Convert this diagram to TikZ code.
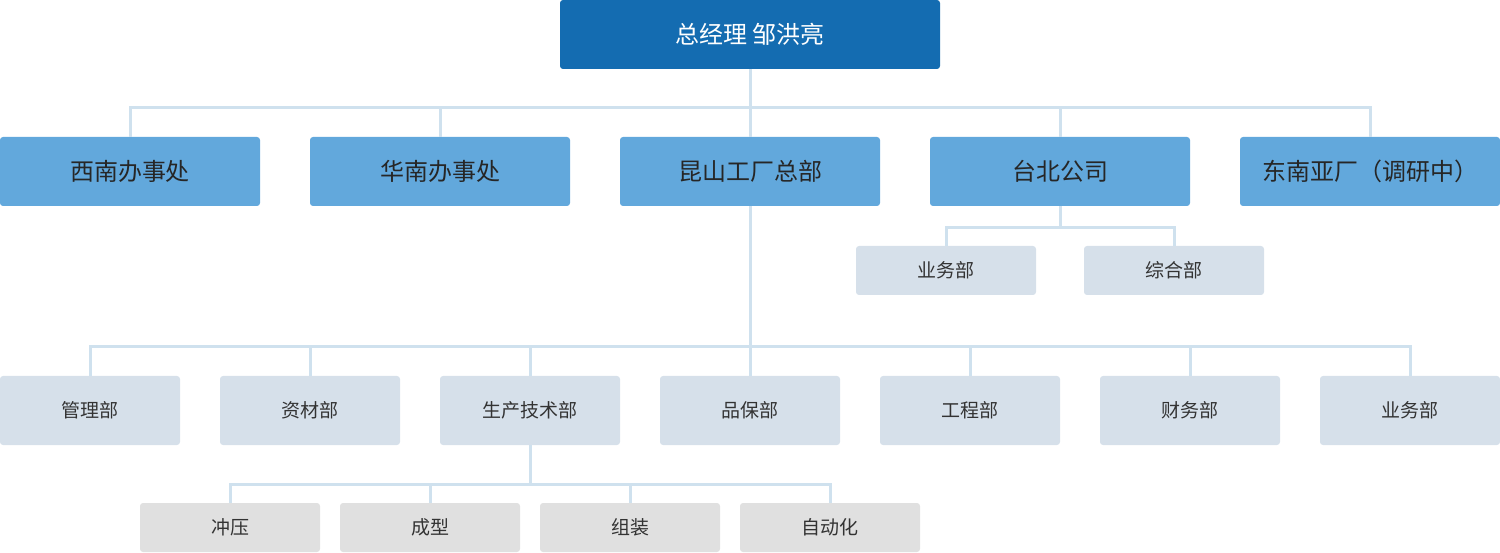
\documentclass[tikz,border=0pt]{standalone}
\usepackage{fontspec}
\newfontfamily\cjk{Noto Sans CJK SC}
\definecolor{GMBlue}{HTML}{146CB1}
\definecolor{BranchBlue}{HTML}{62A8DC}
\definecolor{DeptGrey}{HTML}{D6E0EA}
\definecolor{TeamGrey}{HTML}{E0E0E0}
\definecolor{LinkBlue}{HTML}{CFE1EE}
\usetikzlibrary{positioning}

\begin{document}
\begin{tikzpicture}[x=1pt, y=1pt,
  box/.style={rounded corners=3pt, inner sep=0pt, outer sep=0pt, font=\cjk},
  gmbox/.style={box, fill=GMBlue, text=white, minimum width=380pt,
                minimum height=69pt, font=\cjk\fontsize{24}{28}\selectfont},
  branch/.style={box, fill=BranchBlue, text=black!85, minimum width=260pt,
                 minimum height=69pt, font=\cjk\fontsize{24}{28}\selectfont},
  dept/.style={box, fill=DeptGrey, text=black!80, minimum width=180pt,
               font=\cjk\fontsize{19}{23}\selectfont},
  team/.style={box, fill=TeamGrey, text=black!80, minimum width=180pt,
               minimum height=49pt, font=\cjk\fontsize{19}{23}\selectfont},
  link/.style={LinkBlue, line width=3pt}]
  \useasboundingbox (0,0) rectangle (1500,-553);

  % general manager
  \node[gmbox] (gm) at (750,-34.5) {总经理 邹洪亮};

  % branches
  \node[branch] (xinan) at (130,-171.5) {西南办事处};
  \node[branch, right=50pt of xinan] (huanan) {华南办事处};
  \node[branch, right=50pt of huanan] (kunshan) {昆山工厂总部};
  \node[branch, right=50pt of kunshan] (taibei) {台北公司};
  \node[branch, right=50pt of taibei] (dongnan) {东南亚厂（调研中）};

  % Taipei departments
  \node[dept, minimum height=49pt] (tbsales) at (946,-270.5) {业务部};
  \node[dept, minimum height=49pt, right=48pt of tbsales] (tbgen) {综合部};

  % Kunshan departments
  \node[dept, minimum height=69pt] (guanli) at (90,-410.5) {管理部};
  \node[dept, minimum height=69pt, right=40pt of guanli] (zicai) {资材部};
  \node[dept, minimum height=69pt, right=40pt of zicai] (shengchan) {生产技术部};
  \node[dept, minimum height=69pt, right=40pt of shengchan] (pinbao) {品保部};
  \node[dept, minimum height=69pt, right=40pt of pinbao] (gongcheng) {工程部};
  \node[dept, minimum height=69pt, right=40pt of gongcheng] (caiwu) {财务部};
  \node[dept, minimum height=69pt, right=40pt of caiwu] (yewu) {业务部};

  % production teams
  \node[team] (chongya) at (230,-527.5) {冲压};
  \node[team, right=20pt of chongya] (chengxing) {成型};
  \node[team, right=20pt of chengxing] (zuzhuang) {组装};
  \node[team, right=20pt of zuzhuang] (zidong) {自动化};

  % bus points
  \coordinate (bus1) at (750,-108);
  \coordinate (bus2) at (1060,-228);
  \coordinate (bus3) at (750,-347);
  \coordinate (bus4) at (530,-484);

  \draw[link] (gm.south) -- (bus1);
  \foreach \n in {xinan, huanan, kunshan, taibei, dongnan}
    \draw[link] (bus1) -| (\n.north);
  \draw[link] (taibei.south) -- (bus2);
  \foreach \n in {tbsales, tbgen}
    \draw[link] (bus2) -| (\n.north);
  \draw[link] (kunshan.south) -- (bus3);
  \foreach \n in {guanli, zicai, shengchan, pinbao, gongcheng, caiwu, yewu}
    \draw[link] (bus3) -| (\n.north);
  \draw[link] (shengchan.south) -- (bus4);
  \foreach \n in {chongya, chengxing, zuzhuang, zidong}
    \draw[link] (bus4) -| (\n.north);
\end{tikzpicture}
\end{document}
